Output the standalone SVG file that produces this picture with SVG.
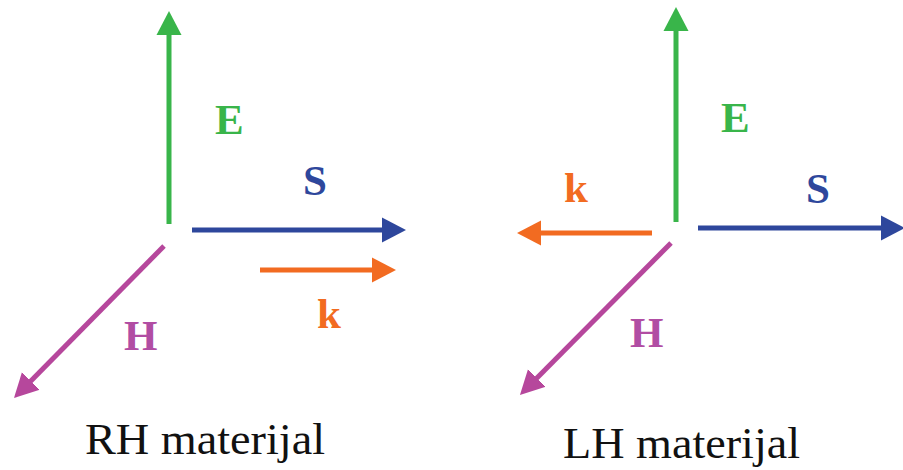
<svg xmlns="http://www.w3.org/2000/svg" width="903" height="470" viewBox="0 0 903 470">
<style>
.lbl{font-family:"Liberation Serif","Times New Roman",serif;font-weight:bold;font-size:43px}
.cap{font-family:"Liberation Serif","Times New Roman",serif;font-size:44px;fill:#111}
.ax{stroke-width:5;fill:none}
.g{stroke:#39b54a}.b{stroke:#2e479c}.o{stroke:#f26b21}.m{stroke:#b6479c}
</style>
<defs>
<marker id="hg" markerUnits="userSpaceOnUse" markerWidth="24" markerHeight="26" refX="14" refY="12.5" orient="auto" viewBox="0 0 24 25"><path d="M0,0 L24,12.5 L0,25 z" fill="#39b54a"/></marker>
<marker id="hb" markerUnits="userSpaceOnUse" markerWidth="24" markerHeight="26" refX="14" refY="12.5" orient="auto" viewBox="0 0 24 25"><path d="M0,0 L24,12.5 L0,25 z" fill="#2e479c"/></marker>
<marker id="ho" markerUnits="userSpaceOnUse" markerWidth="24" markerHeight="26" refX="14" refY="12.5" orient="auto" viewBox="0 0 24 25"><path d="M0,0 L24,12.5 L0,25 z" fill="#f26b21"/></marker>
<marker id="hm" markerUnits="userSpaceOnUse" markerWidth="24" markerHeight="26" refX="14" refY="12.5" orient="auto" viewBox="0 0 24 25"><path d="M0,0 L24,12.5 L0,25 z" fill="#b6479c"/></marker>
</defs>
<g id="connectors">
<line class="ax g" x1="169" y1="224" x2="169" y2="21" marker-end="url(#hg)"/>
<line class="ax b" x1="192" y1="230" x2="396" y2="230" marker-end="url(#hb)"/>
<line class="ax o" x1="260" y1="270" x2="386" y2="270" marker-end="url(#ho)"/>
<line class="ax m" x1="164" y1="246" x2="21" y2="391" marker-end="url(#hm)"/>
<line class="ax g" x1="676" y1="222" x2="676" y2="17" marker-end="url(#hg)"/>
<line class="ax o" x1="652" y1="233" x2="527" y2="233" marker-end="url(#ho)"/>
<line class="ax b" x1="698" y1="228" x2="895" y2="228" marker-end="url(#hb)"/>
<line class="ax m" x1="671" y1="243" x2="527" y2="388" marker-end="url(#hm)"/>
</g>
<g id="rh">
<text class="lbl" x="215" y="134" fill="#39b54a">E</text>
<text class="lbl" x="303" y="195" fill="#2e479c">S</text>
<text class="lbl" x="317" y="328" fill="#f26b21">k</text>
<text class="lbl" x="124" y="350" fill="#b14da3">H</text>
<text class="cap" x="85" y="454" textLength="240" lengthAdjust="spacingAndGlyphs">RH materijal</text>
</g>
<g id="lh">
<text class="lbl" x="721" y="132" fill="#39b54a">E</text>
<text class="lbl" x="806" y="203" fill="#2e479c">S</text>
<text class="lbl" x="564" y="202" fill="#f26b21">k</text>
<text class="lbl" x="630" y="347" fill="#b14da3">H</text>
<text class="cap" x="563" y="458" textLength="237" lengthAdjust="spacingAndGlyphs">LH materijal</text>
</g>
</svg>
